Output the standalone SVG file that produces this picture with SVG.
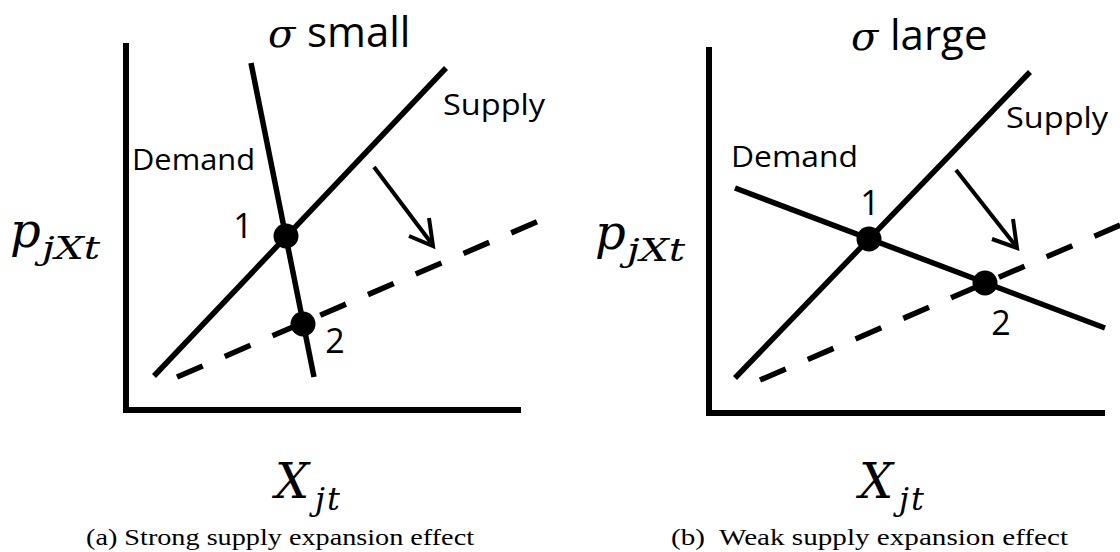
<svg xmlns="http://www.w3.org/2000/svg" width="1120" height="552" viewBox="0 0 1120 552">
<style>
.ax{fill:none;stroke:#000;stroke-width:6;stroke-linejoin:miter}
.ln{fill:none;stroke:#000;stroke-width:5.5}
.ds{fill:none;stroke:#000;stroke-width:5.5;stroke-dasharray:28 24}
.ar{fill:none;stroke:#000;stroke-width:4;stroke-linecap:butt;stroke-linejoin:miter}
.pt{fill:#000}
.lbl{font-family:"Open Sans","Noto Sans",sans-serif;fill:#000}
.math{font-family:"DejaVu Serif",serif;font-style:italic;fill:#000}
.cap{font-family:"Liberation Serif",serif;font-size:23px;fill:#000}
</style>
<rect width="1120" height="552" fill="#fff"/>

<g id="panel-a">
  <path class="ax" d="M126 43 V410 H521"/>
  <g id="a-connectors">
    <line class="ln" x1="251" y1="63" x2="314" y2="377"/>
    <line class="ln" x1="154" y1="376" x2="446" y2="68"/>
    <line class="ds" x1="177" y1="377" x2="548" y2="217"/>
    <path class="ar" d="M374 167 L432 244"/>
    <path class="ar" d="M429 218 L433 246 L409 236"/>
  </g>
  <circle id="a-pt1" class="pt" cx="286" cy="236" r="12.5"/>
  <circle id="a-pt2" class="pt" cx="303" cy="324" r="12.5"/>
  <text class="lbl" x="243" y="238" font-size="34" text-anchor="middle">1</text>
  <text class="lbl" x="335" y="353" font-size="34" text-anchor="middle">2</text>
  <text class="lbl" x="132" y="170" font-size="30" textLength="123" lengthAdjust="spacingAndGlyphs">Demand</text>
  <text class="lbl" x="443" y="115" font-size="30" textLength="102" lengthAdjust="spacingAndGlyphs">Supply</text>
  <text x="268" y="47"><tspan class="math" font-size="40">σ</tspan><tspan class="lbl" font-size="42" x="307">small</tspan></text>
  <text x="10" y="247"><tspan class="math" font-size="48">p</tspan><tspan class="math" font-size="31" x="42" y="259" textLength="58" lengthAdjust="spacingAndGlyphs">jXt</tspan></text>
  <text x="275" y="498"><tspan class="math" font-size="48">X</tspan><tspan class="math" font-size="32" x="315" y="510" letter-spacing="2">jt</tspan></text>
  <text class="cap" x="86" y="545" textLength="388" lengthAdjust="spacingAndGlyphs">(a) Strong supply expansion effect</text>
</g>

<g id="panel-b">
  <path class="ax" d="M709 47 V413 H1105"/>
  <g id="b-connectors">
    <line class="ln" x1="735" y1="188" x2="1105" y2="328"/>
    <line class="ln" x1="735" y1="378" x2="1030" y2="72"/>
    <line class="ds" x1="760" y1="380" x2="1125" y2="223"/>
    <path class="ar" d="M956 170 L1015 245"/>
    <path class="ar" d="M1013 219 L1017 248 L992 239"/>
  </g>
  <circle id="b-pt1" class="pt" cx="869" cy="239" r="12.5"/>
  <circle id="b-pt2" class="pt" cx="985" cy="283" r="12.5"/>
  <text class="lbl" x="870" y="215" font-size="34" text-anchor="middle">1</text>
  <text class="lbl" x="1001" y="335" font-size="34" text-anchor="middle">2</text>
  <text class="lbl" x="731" y="167" font-size="30" textLength="127" lengthAdjust="spacingAndGlyphs">Demand</text>
  <text class="lbl" x="1006" y="128" font-size="30" textLength="102" lengthAdjust="spacingAndGlyphs">Supply</text>
  <text x="851" y="50"><tspan class="math" font-size="40">σ</tspan><tspan class="lbl" font-size="42" x="890">large</tspan></text>
  <text x="595" y="249"><tspan class="math" font-size="48">p</tspan><tspan class="math" font-size="31" x="627" y="261" textLength="58" lengthAdjust="spacingAndGlyphs">jXt</tspan></text>
  <text x="859" y="498"><tspan class="math" font-size="48">X</tspan><tspan class="math" font-size="32" x="899" y="510" letter-spacing="2">jt</tspan></text>
  <text class="cap" x="671" y="545" textLength="397" lengthAdjust="spacingAndGlyphs" xml:space="preserve">(b)  Weak supply expansion effect</text>
</g>
</svg>
